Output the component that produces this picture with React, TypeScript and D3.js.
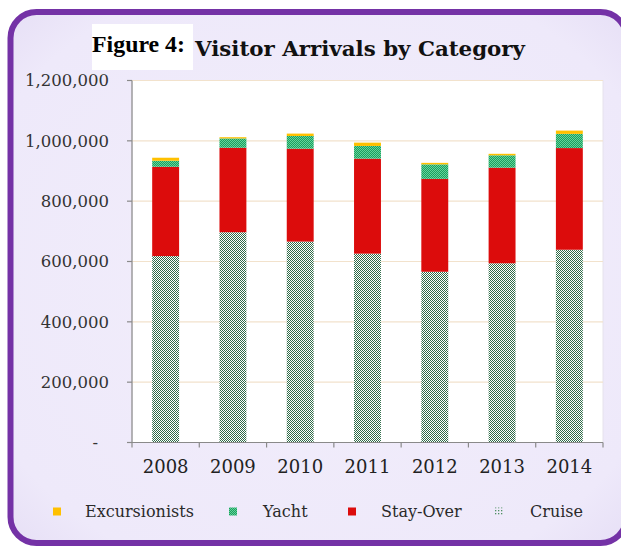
import React from 'react';
import * as d3 from 'd3';

const years = ['2008', '2009', '2010', '2011', '2012', '2013', '2014'];
const cruise = [618000, 697000, 666000, 626000, 566000, 594000, 639000];
const stayOver = [296000, 280000, 308000, 315000, 308000, 317000, 337000];
const yacht = [20000, 31000, 42000, 42000, 48000, 41000, 47000];
const excursionists = [10000, 4000, 8000, 11000, 5000, 5000, 11000];
const yTicks = [0, 200000, 400000, 600000, 800000, 1000000, 1200000];
const seriesKeys = ['Cruise', 'Stay-Over', 'Yacht', 'Excursionists'];
const legendOrder = ['Excursionists', 'Yacht', 'Stay-Over', 'Cruise'];

const W = 621, H = 546;
const plot = { left: 132, right: 603, top: 80.5, bottom: 442.5 };

const fills: Record<string, string> = {
  'Cruise': 'url(#cruisePat)',
  'Stay-Over': '#dc0c0c',
  'Yacht': 'url(#yachtPat)',
  'Excursionists': '#ffc000',
};

export default function App() {
  const rows = years.map((y, i) => ({
    year: y,
    'Cruise': cruise[i],
    'Stay-Over': stayOver[i],
    'Yacht': yacht[i],
    'Excursionists': excursionists[i],
  }));
  const stack = d3.stack<any>().keys(seriesKeys)(rows);
  const x = d3.scaleBand().domain(years).range([plot.left, plot.right]).paddingInner(0.6).paddingOuter(0.3);
  const band = d3.scaleBand().domain(years).range([plot.left, plot.right]);
  const y = d3.scaleLinear().domain([0, 1200000]).range([plot.bottom, plot.top]);
  const fmt = d3.format(',');
  const font = 'DejaVu Serif, serif';
  const legendX: Record<string, [number, number]> = {
    'Excursionists': [57, 85],
    'Yacht': [233, 263],
    'Stay-Over': [352, 381],
    'Cruise': [499, 530],
  };

  return (
    <svg width={W} height={H} style={{ position: 'absolute', left: 0, top: 0 }}>
      <defs>
        <pattern id="cruisePat" width="2" height="2" patternUnits="userSpaceOnUse">
          <rect width="2" height="2" fill="#ffffff" />
          <rect width="1" height="1" fill="#2f6b48" />
          <rect x="1" y="1" width="1" height="1" fill="#2f6b48" />
        </pattern>
        <pattern id="cruiseLeg" width="3" height="3" patternUnits="userSpaceOnUse">
          <rect width="1.3" height="1.3" fill="#4f8f62" />
        </pattern>
        <pattern id="yachtPat" width="2" height="2" patternUnits="userSpaceOnUse">
          <rect width="2" height="2" fill="#1c9e5e" />
          <rect width="1" height="1" fill="#63d49b" />
          <rect x="1" y="1" width="1" height="1" fill="#63d49b" />
        </pattern>
        <radialGradient id="bgGrad" cx="50%" cy="50%" r="70%">
          <stop offset="0%" stopColor="#f2eefb" />
          <stop offset="85%" stopColor="#eee9fa" />
          <stop offset="100%" stopColor="#e7e0f6" />
        </radialGradient>
      </defs>
      <rect x={0} y={0} width={W} height={H} fill="#ffffff" />
      <rect x={10.5} y={12} width={616} height={531} rx={26} ry={26}
        fill="url(#bgGrad)" stroke="#7432a6" strokeWidth={6} />
      {/* title */}
      <rect x={92} y={24} width={101} height={46} fill="#ffffff" />
      <text x={92} y={52} fontFamily="Liberation Serif, serif" fontWeight="bold" fontSize={24}
        textLength={93} lengthAdjust="spacingAndGlyphs" fill="#000">Figure 4:</text>
      <text x={195} y={56} fontFamily={font} fontWeight="bold" fontSize={20}
        textLength={330} lengthAdjust="spacingAndGlyphs" fill="#111">Visitor Arrivals by Category</text>
      {/* plot area */}
      <rect x={plot.left} y={plot.top} width={plot.right - plot.left} height={plot.bottom - plot.top} fill="#ffffff" stroke="#e6e2ec" strokeWidth={1} />
      {yTicks.filter(t => t > 0).map(t => (
        <line key={t} x1={plot.left} x2={plot.right} y1={y(t)} y2={y(t)} stroke="#f2e2cc" strokeWidth={1.2} />
      ))}
      {stack.map(s => (
        <g key={s.key} fill={fills[s.key]}>
          {s.map((d, i) => (
            <rect key={i} x={x(years[i])} width={x.bandwidth()} y={y(d[1])} height={y(d[0]) - y(d[1])} />
          ))}
        </g>
      ))}
      {/* axes */}
      <line x1={plot.left} x2={plot.left} y1={plot.top} y2={plot.bottom} stroke="#8a8a8a" strokeWidth={1.2} />
      <line x1={plot.left} x2={plot.right} y1={plot.bottom} y2={plot.bottom} stroke="#8a8a8a" strokeWidth={1.2} />
      {yTicks.map(t => (
        <g key={t}>
          <line x1={plot.left - 5} x2={plot.left} y1={y(t)} y2={y(t)} stroke="#8a8a8a" strokeWidth={1.2} />
          <text x={t === 0 ? 98 : 109} y={y(t)} dy="0.36em" textAnchor="end" fontFamily={font}
            fontSize={16.5} fill="#333">{t === 0 ? '-' : fmt(t)}</text>
        </g>
      ))}
      {years.map((yr, i) => (
        <line key={'t' + yr} x1={band(yr)!} x2={band(yr)!} y1={plot.bottom} y2={plot.bottom + 5} stroke="#8a8a8a" strokeWidth={1.2} />
      ))}
      <line x1={plot.right} x2={plot.right} y1={plot.bottom} y2={plot.bottom + 5} stroke="#8a8a8a" strokeWidth={1.2} />
      {years.map(yr => (
        <text key={'l' + yr} x={band(yr)! + band.bandwidth() / 2} y={473} textAnchor="middle"
          fontFamily={font} fontSize={18} fill="#222">{yr}</text>
      ))}
      {/* legend */}
      {legendOrder.map(k => (
        <g key={k}>
          <rect x={legendX[k][0] - 4} y={507.5} width={8} height={8}
            fill={k === 'Cruise' ? 'url(#cruiseLeg)' : fills[k]} />
          <text x={legendX[k][1]} y={517} fontFamily={font} fontSize={16} fill="#2a2a2a">{k}</text>
        </g>
      ))}
    </svg>
  );
}
